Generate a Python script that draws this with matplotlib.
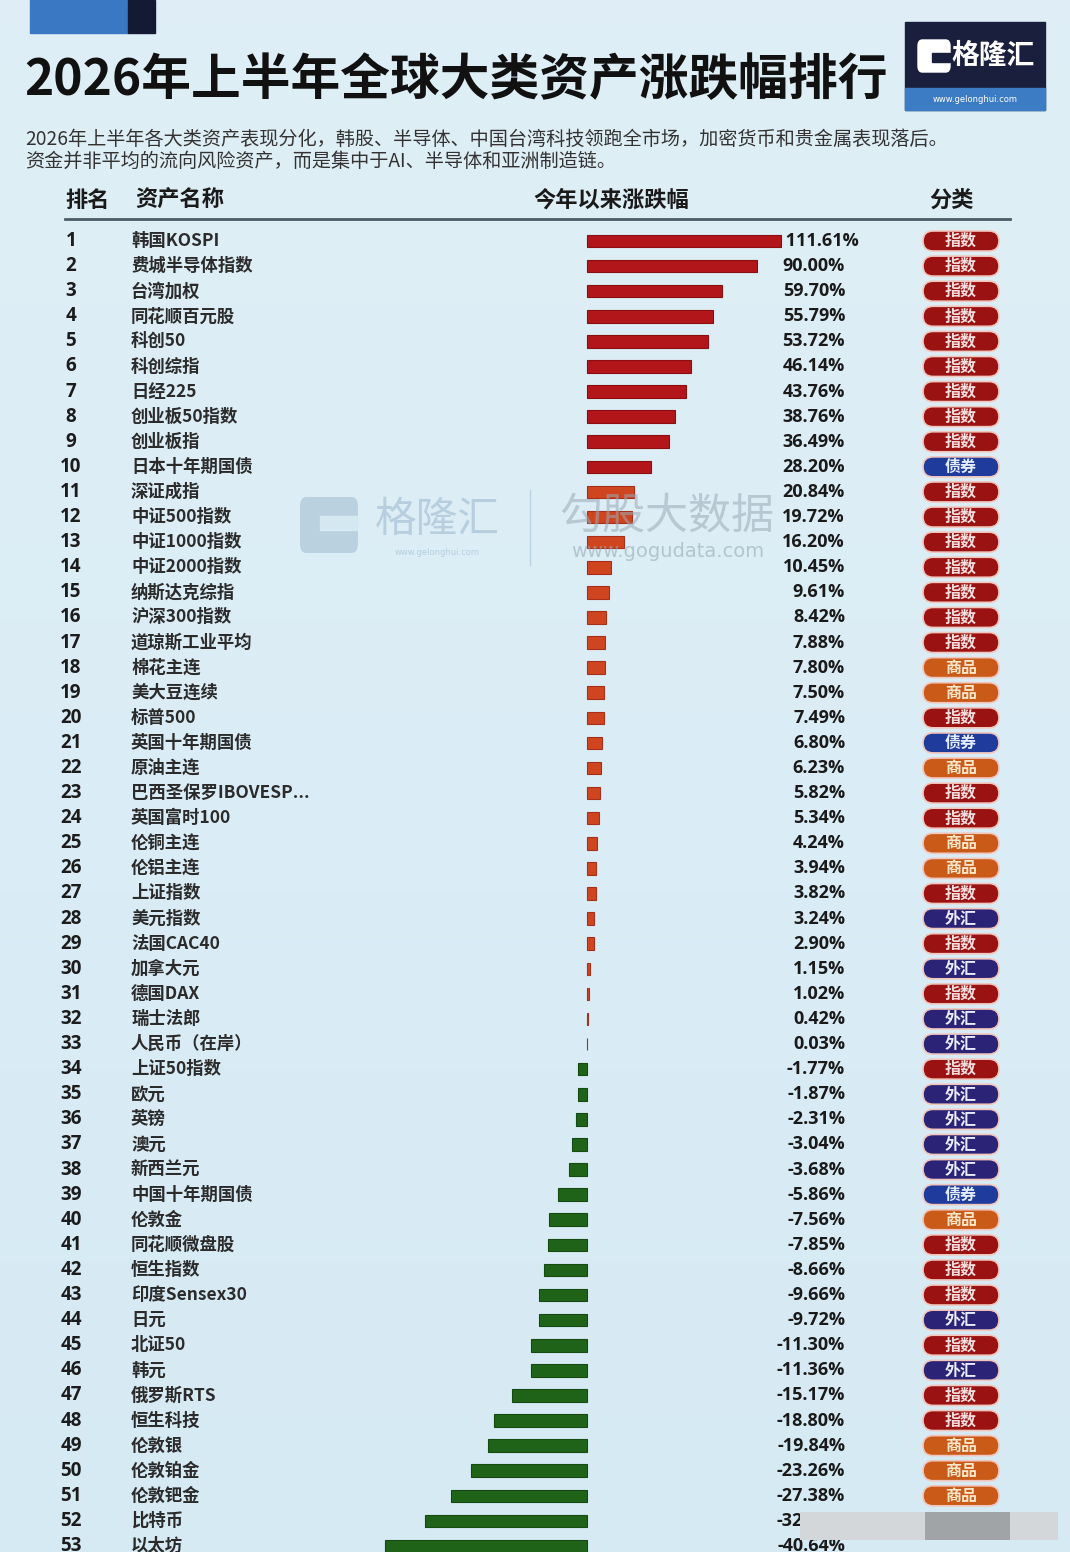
import numpy as np
import matplotlib
matplotlib.use("Agg")
import matplotlib.pyplot as plt
from matplotlib.patches import FancyBboxPatch, Rectangle
from matplotlib.transforms import blended_transform_factory, IdentityTransform
from matplotlib.lines import Line2D

plt.rcParams['font.family'] = ['Noto Sans CJK SC', 'DejaVu Sans']

# ---- data ----
ranks = list(range(1, 54))
names = ["韩国KOSPI", "费城半导体指数", "台湾加权", "同花顺百元股", "科创50", "科创综指",
         "日经225", "创业板50指数", "创业板指", "日本十年期国债", "深证成指", "中证500指数",
         "中证1000指数", "中证2000指数", "纳斯达克综指", "沪深300指数", "道琼斯工业平均",
         "棉花主连", "美大豆连续", "标普500", "英国十年期国债", "原油主连",
         "巴西圣保罗IBOVESP...", "英国富时100", "伦铜主连", "伦铝主连", "上证指数",
         "美元指数", "法国CAC40", "加拿大元", "德国DAX", "瑞士法郎", "人民币（在岸）",
         "上证50指数", "欧元", "英镑", "澳元", "新西兰元", "中国十年期国债", "伦敦金",
         "同花顺微盘股", "恒生指数", "印度Sensex30", "日元", "北证50", "韩元", "俄罗斯RTS",
         "恒生科技", "伦敦银", "伦敦铂金", "伦敦钯金", "比特币", "以太坊"]
values = [111.61, 90.00, 59.70, 55.79, 53.72, 46.14, 43.76, 38.76, 36.49, 28.20,
          20.84, 19.72, 16.20, 10.45, 9.61, 8.42, 7.88, 7.80, 7.50, 7.49,
          6.80, 6.23, 5.82, 5.34, 4.24, 3.94, 3.82, 3.24, 2.90, 1.15,
          1.02, 0.42, 0.03, -1.77, -1.87, -2.31, -3.04, -3.68, -5.86, -7.56,
          -7.85, -8.66, -9.66, -9.72, -11.30, -11.36, -15.17, -18.80, -19.84, -23.26,
          -27.38, -32.50, -40.64]
categories = ["指数"] * 9 + ["债券"] + ["指数"] * 7 + ["商品", "商品", "指数", "债券", "商品",
              "指数", "指数", "商品", "商品", "指数", "外汇", "指数", "外汇", "指数", "外汇",
              "外汇", "指数", "外汇", "外汇", "外汇", "外汇", "债券", "商品", "指数", "指数",
              "指数", "外汇", "指数", "外汇", "指数", "指数", "商品", "商品", "商品", "", ""]

title = "2026年上半年全球大类资产涨跌幅排行"
subtitle1 = "2026年上半年各大类资产表现分化，韩股、半导体、中国台湾科技领跑全市场，加密货币和贵金属表现落后。"
subtitle2 = "资金并非平均的流向风险资产，而是集中于AI、半导体和亚洲制造链。"
headers = ["排名", "资产名称", "今年以来涨跌幅", "分类"]

badge_face = {"指数": "#9a1212", "商品": "#c95a18", "债券": "#1f3c9c", "外汇": "#2b2476"}
badge_text = {"指数": "#f6dede", "商品": "#fbe8cc", "债券": "#e4ecff", "外汇": "#ecebff"}

num_font = ['Open Sans', 'DejaVu Sans']

W, H = 1070, 1552
fig = plt.figure(figsize=(W / 100, H / 100), dpi=100)


def fx(x):
    return x / W


def fy(y):
    return 1 - y / H


# background gradient
bg = fig.add_axes([0, 0, 1, 1], zorder=-10)
grad = np.linspace(0, 1, 256).reshape(-1, 1)
c_top = np.array([0.875, 0.937, 0.965])
c_bot = np.array([0.840, 0.918, 0.958])
img = c_top + (c_bot - c_top) * grad[..., None]
bg.imshow(img, extent=[0, 1, 0, 1], aspect='auto')
bg.axis('off')

# top-left decoration
fig.add_artist(Rectangle((fx(30), fy(33)), fx(98), 33 / H, color="#3a78c4", transform=fig.transFigure))
fig.add_artist(Rectangle((fx(128), fy(33)), fx(27), 33 / H, color="#141a33", transform=fig.transFigure))

# title and subtitle
fig.text(fx(24), fy(80), title, fontsize=35.8, fontweight='bold', color="#111111", va='center')
fig.text(fx(25), fy(139), subtitle1, fontsize=13.8, color="#333333", va='center')
fig.text(fx(25), fy(161), subtitle2, fontsize=13.8, color="#333333", va='center')

# logo
fig.add_artist(Rectangle((fx(905), fy(110)), fx(140), 88 / H, color="#1b1f3e", transform=fig.transFigure))
fig.add_artist(Rectangle((fx(905), fy(110)), fx(140), 22 / H, color="#3b7cc4", transform=fig.transFigure))
fig.add_artist(FancyBboxPatch((fx(918), fy(72)), fx(32), 32 / H, boxstyle="round,pad=0,rounding_size=0.004",
                              color="white", transform=fig.transFigure))
fig.add_artist(Rectangle((fx(932), fy(62)), fx(18), 9 / H, color="#1b1f3e", transform=fig.transFigure))
fig.text(fx(993), fy(56), "格隆汇", fontsize=20, fontweight='bold', color="white", ha='center', va='center')
fig.text(fx(975), fy(99), "www.gelonghui.com", fontsize=6, color="white", ha='center', va='center',
         family=['DejaVu Sans'])

# column headers
hdr_kw = dict(fontsize=16, fontweight='bold', color="#1a1a1a", va='center')
fig.text(fx(65), fy(200), headers[0], ha='left', **hdr_kw)
fig.text(fx(135), fy(200), headers[1], ha='left', **hdr_kw)
fig.text(fx(611), fy(200), headers[2], ha='center', **hdr_kw)
fig.text(fx(952), fy(200), headers[3], ha='center', **hdr_kw)
fig.add_artist(Line2D([fx(65), fx(1010)], [fy(219), fy(219)], color="#4d5b66", lw=2,
                      transform=fig.transFigure))

# ---- bar axes ----
pitch = (1545 - 240) / 52
y_top = 241 - 0.5 * pitch
y_bot = 241 + 52.5 * pitch
ax = fig.add_axes([0, fy(y_bot), 1, (y_bot - y_top) / H], zorder=0)
ax.patch.set_alpha(0)


def fwd(x):
    x = np.asarray(x, dtype=float)
    return np.where(x > 60, 60 + (x - 60) * 0.5, np.where(x < 0, 2.2 * x, x))


def inv(t):
    t = np.asarray(t, dtype=float)
    return np.where(t > 60, 60 + (t - 60) / 0.5, np.where(t < 0, t / 2.2, t))


ax.set_xscale('function', functions=(fwd, inv))
k = 2.26  # pixels per scaled unit
zero_px = 587
ax.set_xlim(float(inv(-zero_px / k)), float(inv((W - zero_px) / k)))
ax.set_ylim(52.5, -0.5)
ax.axis('off')

ypos = np.arange(len(values))
colors = []
edges = []
for v in values:
    if v >= 25:
        colors.append("#b2161a")
        edges.append("#8a0e10")
    elif v > 0:
        colors.append("#cf4520")
        edges.append("#a8301a")
    else:
        colors.append("#1f6318")
        edges.append("#154a10")
ax.barh(ypos, values, height=0.5, color=colors, edgecolor=edges, linewidth=0.8)

trans = blended_transform_factory(fig.transFigure, ax.transData)
for i, (r, n, v, c) in enumerate(zip(ranks, names, values, categories)):
    ax.text(fx(71), i, str(r), transform=trans, ha='center', va='center', fontsize=13.5,
            fontweight='bold', color="#1c1c1c", family=num_font)
    ax.text(fx(131), i, n, transform=trans, ha='left', va='center', fontsize=12.5,
            fontweight='bold', color="#2b2b2b")
    lab = f"{v:.2f}%"
    end_px = ax.transData.transform((v, i))[0]
    if end_px > 765:
        ax.text(v, i, " " + lab, ha='left', va='center', fontsize=13, fontweight='bold',
                color="#1a1a1a", family=num_font)
    else:
        ax.text(fx(845), i, lab, transform=trans, ha='right', va='center', fontsize=13,
                fontweight='bold', color="#1a1a1a", family=num_font)
    if c:
        cy = ax.transData.transform((0, i))[1]
        fig.add_artist(FancyBboxPatch((923, cy - 10), 76, 20, boxstyle="round,pad=0,rounding_size=10",
                                      facecolor=badge_face[c], edgecolor="#f2c6bd", linewidth=1.2,
                                      transform=IdentityTransform(), zorder=-5))
        ax.text(fx(961), i, c, transform=trans, ha='center', va='center', fontsize=11.5,
                fontweight='bold', color=badge_text[c])

# watermark in the middle
wm = "#9fbad0"
fig.add_artist(FancyBboxPatch((fx(300), fy(553)), fx(58), 56 / H, boxstyle="round,pad=0,rounding_size=0.006",
                              facecolor=wm, edgecolor='none', alpha=0.55, transform=fig.transFigure, zorder=5))
fig.add_artist(Rectangle((fx(320), fy(530)), fx(38), 14 / H, color="#d8ebf5", alpha=0.9,
                         transform=fig.transFigure, zorder=5))
fig.text(fx(437), fy(520), "格隆汇", fontsize=30, color=wm, alpha=0.6, ha='center', va='center', zorder=5)
fig.text(fx(437), fy(552), "www.gelonghui.com", fontsize=6, color=wm, alpha=0.6, ha='center', va='center',
         family=['DejaVu Sans'], zorder=5)
fig.add_artist(Line2D([fx(530), fx(530)], [fy(490), fy(565)], color=wm, alpha=0.5, lw=1,
                      transform=fig.transFigure, zorder=5))
fig.text(fx(667), fy(517), "勾股大数据", fontsize=31, color="#9aaab6", alpha=0.55, ha='center',
         va='center', zorder=5)
fig.text(fx(668), fy(551), "www.gogudata.com", fontsize=14, color="#9aaab6", alpha=0.6, ha='center',
         va='center', family=['DejaVu Sans'], zorder=5)

# grey overlay at the bottom right
fig.add_artist(Rectangle((800, H - 1540), 258, 28, facecolor="#d3d7d9", edgecolor='none',
                         transform=IdentityTransform(), zorder=6))
fig.add_artist(Rectangle((925, H - 1540), 85, 28, facecolor="#6e7275", edgecolor='none', alpha=0.5,
                         transform=IdentityTransform(), zorder=6))

fig.savefig("out.png", dpi=100)
